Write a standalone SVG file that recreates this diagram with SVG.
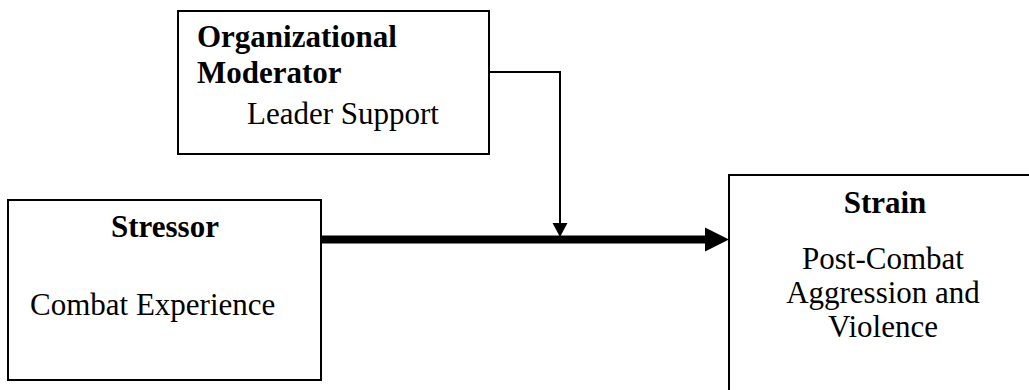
<svg xmlns="http://www.w3.org/2000/svg" width="1029" height="390" viewBox="0 0 1029 390">
<style>
.box{fill:#fff;stroke:#000;stroke-width:2}
.t{font-family:"Liberation Serif","Times New Roman",serif;font-size:31px;fill:#000}
.b{font-weight:bold}
.c{text-anchor:middle}
.ln{fill:none;stroke:#000;stroke-width:2}
</style>
<rect width="1029" height="390" fill="#fff"/>
<g id="moderator">
<rect class="box" x="178" y="11" width="311" height="143"/>
<text class="t b" x="197" y="47">Organizational</text>
<text class="t b" x="197" y="83">Moderator</text>
<text class="t" x="247" y="124">Leader Support</text>
</g>
<g id="stressor">
<rect class="box" x="8" y="200" width="313" height="180"/>
<text class="t b c" x="165" y="237">Stressor</text>
<text class="t" x="30" y="315">Combat Experience</text>
</g>
<g id="strain">
<rect class="box" x="729" y="175" width="320" height="230"/>
<text class="t b c" x="885" y="213">Strain</text>
<text class="t c" x="883" y="269">Post-Combat</text>
<text class="t c" x="883" y="303">Aggression and</text>
<text class="t c" x="883" y="337">Violence</text>
</g>
<g id="connectors">
<line x1="321" y1="239.5" x2="707" y2="239.5" stroke="#000" stroke-width="8"/>
<polygon points="705,227.5 729,239.5 705,251.5" fill="#000"/>
<polyline class="ln" points="489,72 560,72 560,224"/>
<polygon points="552.5,223 567.5,223 560,237" fill="#000"/>
</g>
</svg>
